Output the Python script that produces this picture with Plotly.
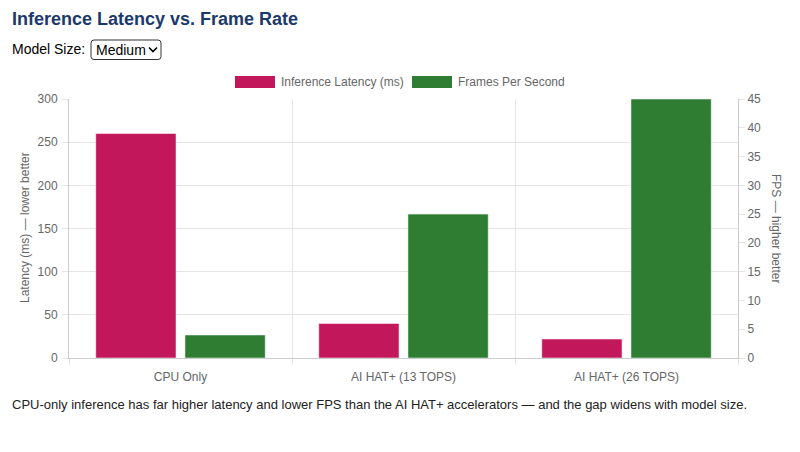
import plotly.graph_objects as go

categories = ["CPU Only", "AI HAT+ (13 TOPS)", "AI HAT+ (26 TOPS)"]
latency_ms = [260, 40, 22]
fps = [4, 25, 45]
series_names = ["Inference Latency (ms)", "Frames Per Second"]
colors = ["#C2185B", "#2E7D32"]

OFF = 8  # page body margin
W, H = 800 - 2 * OFF, 452 - 2 * OFF
L, R, T, B = 69, 738, 99, 358  # plot area in page pixels
AP = 2  # annotation inner padding


def px(x):
    return (x - L) / (R - L)


def py(y):
    return (B - y) / (B - T)


FONT = "Liberation Sans, Arial, Helvetica, sans-serif"
GRID = "#e5e5e5"
TXT = "#666666"

fig = go.Figure()
fig.add_trace(go.Bar(
    x=categories, y=latency_ms, name=series_names[0], marker_color=colors[0],
    marker_line=dict(width=1, color="rgba(255,255,255,0.5)"),
    offsetgroup="a", yaxis="y", showlegend=False,
))
fig.add_trace(go.Bar(
    x=categories, y=fps, name=series_names[1], marker_color=colors[1],
    marker_line=dict(width=1, color="rgba(255,255,255,0.5)"),
    offsetgroup="b", yaxis="y2", showlegend=False,
))

fig.update_layout(
    width=W, height=H,
    margin=dict(l=L - OFF, r=(800 - OFF) - R, t=T - OFF, b=(452 - OFF) - B, pad=0),
    paper_bgcolor="white", plot_bgcolor="white",
    font=dict(family=FONT, size=12, color=TXT),
    barmode="group", bargap=0.2, bargroupgap=0.1,
    xaxis=dict(
        type="category", tickson="boundaries", ticks="outside", ticklen=6,
        tickcolor=GRID, showgrid=True, gridcolor=GRID, gridwidth=1,
        showline=True, linecolor="#cccccc", linewidth=1, ticklabelstandoff=8,
        tickfont=dict(size=12, color=TXT), range=[-0.5, 2.5], zeroline=False,
    ),
    yaxis=dict(
        range=[0, 300], dtick=50, ticks="outside", ticklen=6, tickcolor=GRID,
        showgrid=True, gridcolor=GRID, showline=True, linecolor="#cccccc",
        zeroline=False, tickfont=dict(size=12, color=TXT), ticklabelstandoff=2,
    ),
    yaxis2=dict(
        range=[0, 45], dtick=5, overlaying="y", side="right", ticks="outside",
        ticklen=6, tickcolor=GRID, showgrid=False, showline=True,
        linecolor="#cccccc", zeroline=False, tickfont=dict(size=12, color=TXT),
    ),
    showlegend=False,
)

ann = []
ann.append(dict(text="<b>Inference Latency vs. Frame Rate</b>", x=px(12 - AP), y=py(19),
                xref="paper", yref="paper", xanchor="left", yanchor="middle",
                showarrow=False, font=dict(size=18, color="#1b3a6b", family=FONT)))
ann.append(dict(text="Model Size:", x=px(12 - AP), y=py(49), xref="paper", yref="paper",
                xanchor="left", yanchor="middle", showarrow=False,
                font=dict(size=14, color="#000000", family=FONT)))
ann.append(dict(text="Medium", x=px(96 - AP), y=py(49.5), xref="paper", yref="paper",
                xanchor="left", yanchor="middle", showarrow=False,
                font=dict(size=14, color="#000000", family=FONT)))
ann.append(dict(text=series_names[0], x=px(281 - AP), y=py(82), xref="paper", yref="paper",
                xanchor="left", yanchor="middle", showarrow=False,
                font=dict(size=12, color=TXT, family=FONT)))
ann.append(dict(text=series_names[1], x=px(458 - AP), y=py(82), xref="paper", yref="paper",
                xanchor="left", yanchor="middle", showarrow=False,
                font=dict(size=12, color=TXT, family=FONT)))
ann.append(dict(text="Latency (ms) — lower better", x=px(25), y=py(228), xref="paper",
                yref="paper", xanchor="center", yanchor="middle", textangle=-90,
                showarrow=False, font=dict(size=12, color=TXT, family=FONT)))
ann.append(dict(text="FPS — higher better", x=px(776), y=py(228), xref="paper",
                yref="paper", xanchor="center", yanchor="middle", textangle=90,
                showarrow=False, font=dict(size=12, color=TXT, family=FONT)))
ann.append(dict(text="CPU-only inference has far higher latency and lower FPS than the AI HAT+ accelerators — and the gap widens with model size.",
                x=px(12 - AP), y=py(404), xref="paper", yref="paper", xanchor="left",
                yanchor="middle", showarrow=False,
                font=dict(size=13, color="#222222", family=FONT)))
fig.update_layout(annotations=ann)

shapes = []
shapes.append(dict(type="rect", xref="paper", yref="paper", x0=px(235), x1=px(275),
                   y0=py(88), y1=py(76), fillcolor=colors[0], line=dict(width=0)))
shapes.append(dict(type="rect", xref="paper", yref="paper", x0=px(412), x1=px(452),
                   y0=py(88), y1=py(76), fillcolor=colors[1], line=dict(width=0)))
x0, x1, y0, y1 = px(91), px(161), py(59.5), py(40)
rx, ry = 3 / (R - L), 3 / (B - T)
path = (f"M {x0+rx},{y1} L {x1-rx},{y1} Q {x1},{y1} {x1},{y1-ry} L {x1},{y0+ry} "
        f"Q {x1},{y0} {x1-rx},{y0} L {x0+rx},{y0} Q {x0},{y0} {x0},{y0+ry} "
        f"L {x0},{y1-ry} Q {x0},{y1} {x0+rx},{y1} Z")
shapes.append(dict(type="path", xref="paper", yref="paper", path=path,
                   line=dict(color="#333333", width=1), fillcolor="white", layer="below"))
cx0, cx1, cxm = px(149), px(157), px(153)
shapes.append(dict(type="path", xref="paper", yref="paper",
                   path=f"M {cx0},{py(47.5)} L {cxm},{py(51.5)} L {cx1},{py(47.5)}",
                   line=dict(color="#000000", width=1.6)))
fig.update_layout(shapes=shapes)

fig.write_html("out.html")
